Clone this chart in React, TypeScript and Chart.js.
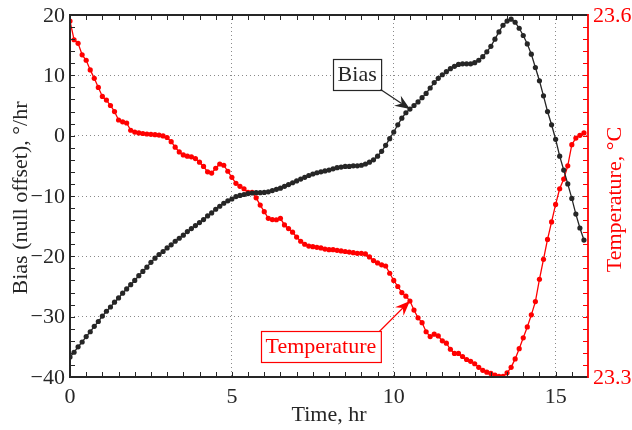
import React, { useEffect, useRef } from 'react';
import { Chart, registerables } from 'chart.js';

Chart.register(...registerables);

// Sampling interval of both records (hours)
const SAMPLE_HR = 0.125;

// Gyro bias (null offset), deg/hr — one value per sample
const BIAS = [
  -36.7, -35.9, -35.0, -34.2, -33.3, -32.5, -31.6, -30.8, -29.9, -29.1,
  -28.4, -27.6, -26.9, -26.1, -25.4, -24.7, -24.0, -23.2, -22.5, -21.8,
  -21.0, -20.3, -19.7, -19.2, -18.6, -18.1, -17.5, -17.0, -16.5, -15.9,
  -15.4, -14.9, -14.4, -13.9, -13.3, -12.8, -12.2, -11.7, -11.2, -10.8,
  -10.5, -10.1, -9.9, -9.75, -9.6, -9.5, -9.45, -9.45, -9.4, -9.3,
  -9.1, -8.9, -8.7, -8.4, -8.1, -7.8, -7.5, -7.2, -6.9, -6.6,
  -6.35, -6.15, -6.0, -5.85, -5.7, -5.5, -5.3, -5.2, -5.1, -5.1,
  -5.0, -5.0, -4.9, -4.7, -4.4, -4.0, -3.4, -2.6, -1.6, -0.5,
  0.6, 1.8, 2.9, 3.8, 4.4, 5.0, 5.6, 6.3, 7.0, 7.9,
  8.8, 9.5, 10.1, 10.6, 11.1, 11.5, 11.8, 11.9, 11.9, 11.9,
  12.1, 12.5, 13.1, 13.9, 14.8, 16.0, 17.2, 18.3, 19.0, 19.3,
  18.8, 17.8, 16.6, 15.2, 13.5, 11.3, 9.1, 6.6, 4.0, 1.8,
  -0.6, -3.4, -5.7, -8.0, -10.4, -13.0, -15.3, -17.3,
];

// Temperature, deg C — one value per sample
const TEMP = [
  23.595, 23.5795, 23.5765, 23.567, 23.5625, 23.5545, 23.5475, 23.54, 23.5325, 23.5295,
  23.525, 23.52, 23.513, 23.5115, 23.5105, 23.5045, 23.503, 23.5023, 23.5018, 23.5014,
  23.5011, 23.5008, 23.5005, 23.4998, 23.4985, 23.495, 23.4905, 23.4865, 23.484, 23.483,
  23.4825, 23.481, 23.478, 23.4745, 23.47, 23.469, 23.473, 23.4765, 23.4755, 23.4705,
  23.4655, 23.4605, 23.458, 23.456, 23.453, 23.453, 23.4485, 23.4425, 23.437, 23.4315,
  23.4305, 23.4303, 23.4315, 23.426, 23.423, 23.42, 23.416, 23.4125, 23.41, 23.4085,
  23.408, 23.4075, 23.407, 23.406, 23.4055, 23.4055, 23.405, 23.4045, 23.404, 23.4035,
  23.403, 23.4025, 23.4025, 23.402, 23.3995, 23.3965, 23.3945, 23.393, 23.392, 23.386,
  23.38, 23.375, 23.37, 23.367, 23.363, 23.3555, 23.349, 23.345, 23.3375, 23.3335,
  23.3355, 23.334, 23.33, 23.328, 23.323, 23.3195, 23.3195, 23.317, 23.3145, 23.313,
  23.311, 23.308, 23.3055, 23.304, 23.303, 23.3015, 23.3005, 23.3005, 23.3035, 23.308,
  23.315, 23.3235, 23.3325, 23.3415, 23.3515, 23.3625, 23.381, 23.3975, 23.414, 23.4285,
  23.443, 23.456, 23.464, 23.475, 23.4925, 23.498, 23.5003, 23.5023,
];

const X_RANGE = [0, 16];
const BIAS_RANGE = [-40, 20];
const TEMP_RANGE = [23.3, 23.6];
const X_TICKS = [0, 5, 10, 15];
const BIAS_TICKS = [-40, -30, -20, -10, 0, 10, 20];
const TEMP_TICKS = [23.3, 23.6];
const X_MINOR = 0.5;
const BIAS_MINOR = 2;
const TEMP_MINOR = 0.01;

const X_TITLE = 'Time, hr';
const BIAS_TITLE = 'Bias (null offset), \u00b0/hr';
const TEMP_TITLE = 'Temperature, \u00b0C';
const BIAS_NAME = 'Bias';
const TEMP_NAME = 'Temperature';

// annotation: arrows point at this sample; label boxes centred at (time, bias-axis value)
const ANNOT_INDEX = 84;
const BIAS_LABEL_AT = { x: 8.87, y: 10.2 };
const TEMP_LABEL_AT = { x: 7.75, y: -34.9 };

const FONT = "'Liberation Serif', 'Times New Roman', serif";
const INK = '#262626';
const RED = '#ff0000';
const GRID = '#8a8a8a';

const fmt = (v: number) => (v < 0 ? '\u2212' + Math.abs(v) : String(v));

function arrow(ctx: CanvasRenderingContext2D, x1: number, y1: number, x2: number, y2: number, color: string) {
  const ang = Math.atan2(y2 - y1, x2 - x1);
  const L = 15;
  const W = 6;
  const N = 10;
  const c = Math.cos(ang), s = Math.sin(ang);
  ctx.strokeStyle = color;
  ctx.fillStyle = color;
  ctx.lineWidth = 1.2;
  ctx.beginPath();
  ctx.moveTo(x1, y1);
  ctx.lineTo(x2 - c * N, y2 - s * N);
  ctx.stroke();
  ctx.beginPath();
  ctx.moveTo(x2, y2);
  ctx.lineTo(x2 - c * L - s * W, y2 - s * L + c * W);
  ctx.lineTo(x2 - c * N, y2 - s * N);
  ctx.lineTo(x2 - c * L + s * W, y2 - s * L - c * W);
  ctx.closePath();
  ctx.fill();
}

const decor = {
  id: 'decor',
  afterDraw(chart: any) {
    const { ctx, chartArea: a } = chart;
    const sx = chart.scales.x, sy = chart.scales.y, st = chart.scales.yT;
    ctx.save();
    const seg = (x1: number, y1: number, x2: number, y2: number) => {
      ctx.beginPath(); ctx.moveTo(x1, y1); ctx.lineTo(x2, y2); ctx.stroke();
    };
    const TL = 5;
    ctx.lineWidth = 1;
    ctx.strokeStyle = INK;
    const nx = Math.round((X_RANGE[1] - X_RANGE[0]) / X_MINOR);
    for (let k = 1; k < nx; k++) {
      const p = Math.round(sx.getPixelForValue(X_RANGE[0] + k * X_MINOR)) + 0.5;
      seg(p, a.bottom, p, a.bottom - TL);
      seg(p, a.top, p, a.top + TL);
    }
    const ny = Math.round((BIAS_RANGE[1] - BIAS_RANGE[0]) / BIAS_MINOR);
    for (let k = 1; k < ny; k++) {
      const p = Math.round(sy.getPixelForValue(BIAS_RANGE[0] + k * BIAS_MINOR)) + 0.5;
      seg(a.left, p, a.left + TL, p);
    }
    ctx.strokeStyle = RED;
    const nt = Math.round((TEMP_RANGE[1] - TEMP_RANGE[0]) / TEMP_MINOR);
    for (let k = 1; k < nt; k++) {
      const p = Math.round(st.getPixelForValue(TEMP_RANGE[0] + k * TEMP_MINOR)) + 0.5;
      seg(a.right, p, a.right - TL, p);
    }
    // frame
    ctx.lineWidth = 2;
    ctx.strokeStyle = INK;
    ctx.beginPath();
    ctx.moveTo(a.right, a.top);
    ctx.lineTo(a.left, a.top);
    ctx.lineTo(a.left, a.bottom);
    ctx.lineTo(a.right, a.bottom);
    ctx.stroke();
    ctx.strokeStyle = RED;
    ctx.lineWidth = 1.8;
    seg(a.right, a.top - 1, a.right, a.bottom + 1);

    // tick labels
    ctx.font = `22px ${FONT}`;
    ctx.fillStyle = INK;
    ctx.textAlign = 'center';
    ctx.textBaseline = 'alphabetic';
    for (const v of X_TICKS) ctx.fillText(fmt(v), sx.getPixelForValue(v), a.bottom + 26);
    ctx.textAlign = 'right';
    ctx.textBaseline = 'middle';
    for (const v of BIAS_TICKS) ctx.fillText(fmt(v), a.left - 5, sy.getPixelForValue(v) + 1);
    ctx.fillStyle = RED;
    ctx.textAlign = 'left';
    for (const v of TEMP_TICKS) ctx.fillText(v.toFixed(1), a.right + 5, st.getPixelForValue(v) + 1);

    // axis titles
    ctx.fillStyle = INK;
    ctx.textAlign = 'center';
    ctx.textBaseline = 'alphabetic';
    ctx.fillText(X_TITLE, (a.left + a.right) / 2, a.bottom + 44);
    const midY = (a.top + a.bottom) / 2 + 2;
    ctx.save();
    ctx.translate(26.5, midY);
    ctx.rotate(-Math.PI / 2);
    ctx.fillText(BIAS_TITLE, 0, 0);
    ctx.restore();
    ctx.save();
    ctx.fillStyle = RED;
    ctx.translate(621, midY + 1.5);
    ctx.rotate(-Math.PI / 2);
    ctx.fillText(TEMP_TITLE, 0, 0);
    ctx.restore();

    // annotations
    const bx = chart.getDatasetMeta(0).data[ANNOT_INDEX];
    const tx = chart.getDatasetMeta(1).data[ANNOT_INDEX];
    const box = (label: string, at: { x: number; y: number }, color: string) => {
      const cx = sx.getPixelForValue(at.x);
      const cy = sy.getPixelForValue(at.y);
      const w = ctx.measureText(label).width + 9;
      const h = 31;
      const l = Math.round(cx - w / 2) + 0.5, t = Math.round(cy - h / 2) + 0.5;
      ctx.fillStyle = '#ffffff';
      ctx.fillRect(l, t, w, h);
      ctx.strokeStyle = color;
      ctx.lineWidth = 1.2;
      ctx.strokeRect(l, t, w, h);
      ctx.fillStyle = color;
      ctx.textAlign = 'center';
      ctx.textBaseline = 'middle';
      ctx.fillText(label, cx, cy + 1);
      return { l, t, r: l + w, b: t + h };
    };
    const b1 = box(BIAS_NAME, BIAS_LABEL_AT, INK);
    arrow(ctx, b1.r - 1, b1.b - 1, bx.x, bx.y, INK);
    const b2 = box(TEMP_NAME, TEMP_LABEL_AT, RED);
    arrow(ctx, b2.r - 2, b2.t, tx.x, tx.y, RED);
    ctx.restore();
  },
};

export default function App() {
  const ref = useRef<HTMLCanvasElement | null>(null);
  useEffect(() => {
    if (!ref.current) return;
    const biasPts = BIAS.map((v, i) => ({ x: i * SAMPLE_HR, y: v }));
    const tempPts = TEMP.map((v, i) => ({ x: i * SAMPLE_HR, y: v }));
    const gridCommon = { color: GRID, lineWidth: 1, drawTicks: false };
    const chart = new Chart(ref.current, {
      type: 'line',
      data: {
        datasets: [
          {
            label: BIAS_NAME,
            data: biasPts,
            yAxisID: 'y',
            borderColor: INK,
            backgroundColor: INK,
            borderWidth: 1.3,
            pointRadius: 2.6,
            pointBorderWidth: 0,
            pointBackgroundColor: INK,
            tension: 0,
          },
          {
            label: TEMP_NAME,
            data: tempPts,
            yAxisID: 'yT',
            borderColor: RED,
            backgroundColor: RED,
            borderWidth: 1.3,
            pointRadius: 2.6,
            pointBorderWidth: 0,
            pointBackgroundColor: RED,
            tension: 0,
          },
        ],
      },
      options: {
        responsive: false,
        animation: false,
        devicePixelRatio: 1,
        events: [],
        layout: { padding: { top: 15, left: 0, right: 0, bottom: 0 } },
        plugins: { legend: { display: false }, tooltip: { enabled: false } },
        scales: {
          x: {
            type: 'linear',
            min: X_RANGE[0],
            max: X_RANGE[1],
            afterBuildTicks: (s: any) => { s.ticks = X_TICKS.map((value) => ({ value })); },
            afterFit: (s: any) => { s.height = 53; },
            ticks: { display: false },
            grid: gridCommon,
            border: { display: false, dash: [1, 3] },
          },
          y: {
            type: 'linear',
            position: 'left',
            min: BIAS_RANGE[0],
            max: BIAS_RANGE[1],
            afterBuildTicks: (s: any) => { s.ticks = BIAS_TICKS.map((value) => ({ value })); },
            afterFit: (s: any) => { s.width = 70; },
            ticks: { display: false },
            grid: gridCommon,
            border: { display: false, dash: [1, 3] },
          },
          yT: {
            type: 'linear',
            position: 'right',
            min: TEMP_RANGE[0],
            max: TEMP_RANGE[1],
            afterBuildTicks: (s: any) => { s.ticks = TEMP_TICKS.map((value) => ({ value })); },
            afterFit: (s: any) => { s.width = 44; },
            ticks: { display: false },
            grid: { display: false, drawTicks: false },
            border: { display: false },
          },
        },
      } as any,
      plugins: [decor],
    });
    return () => chart.destroy();
  }, []);
  return (
    <div style={{ position: 'fixed', left: 0, top: 0, width: 632, height: 430, background: '#fff' }}>
      <canvas ref={ref} width={632} height={430} style={{ display: 'block' }} />
    </div>
  );
}
